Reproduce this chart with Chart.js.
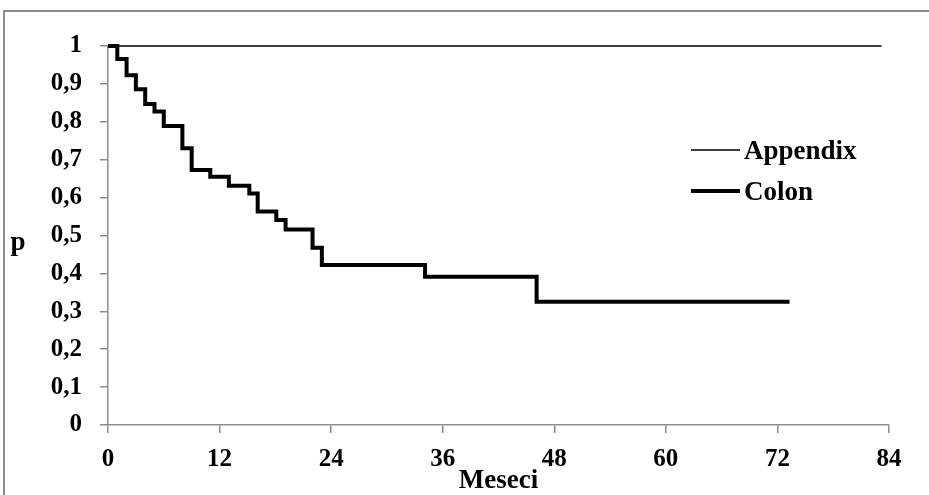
<!DOCTYPE html>
<html>
<head>
<meta charset="utf-8">
<script src="https://cdn.jsdelivr.net/npm/chart.js@4"></script>
<style>
  body { margin: 0; background: #fff; overflow: hidden; }
  #frame { position: absolute; left: 3px; top: 10px; width: 1000px; height: 600px; border: 2px solid #8c8c8c; }
  #km { position: absolute; left: 0; top: 0; }
</style>
</head>
<body>
<div id="frame"></div>
<canvas id="km" width="929" height="495"></canvas>
<script>
// Kaplan-Meier krive (mesece / p)
const appendixMonths = [0, 83.2];
const appendixP = [1, 1];
const colonMonths = [0, 1, 2, 3, 4, 5, 6, 8, 9, 11, 13, 15.2, 16.1, 18.1, 19.1, 22, 23, 34.1, 46.1, 73.3];
const colonP = [1, 0.966, 0.923, 0.886, 0.847, 0.827, 0.789, 0.730, 0.673, 0.655, 0.631, 0.611, 0.563, 0.541, 0.516, 0.468, 0.422, 0.391, 0.325, 0.325];
const xTickLabels = ['0', '12', '24', '36', '48', '60', '72', '84'];
const yTickLabels = ['0', '0,1', '0,2', '0,3', '0,4', '0,5', '0,6', '0,7', '0,8', '0,9', '1'];

const FONT = '"Liberation Serif", "Times New Roman", serif';

function toPoints(xs, ys) {
    return xs.map((x, i) => ({ x: x, y: ys[i] }));
}

// legenda unutar grafika + oznaka "p"
const extraText = {
    id: 'extraText',
    afterDraw(chart) {
        const ctx = chart.ctx;
        ctx.save();
        ctx.font = 'bold 27px ' + FONT;
        ctx.textBaseline = 'middle';
        chart.data.datasets.forEach((ds, i) => {
            const y = 150 + i * 41;
            ctx.strokeStyle = ds.borderColor;
            ctx.lineWidth = ds.borderWidth;
            ctx.beginPath();
            ctx.moveTo(691, y);
            ctx.lineTo(740, y);
            ctx.stroke();
            ctx.fillStyle = '#000';
            ctx.textAlign = 'left';
            ctx.fillText(ds.label, 744, y + 2);
        });
        ctx.textAlign = 'center';
        ctx.fillText('p', 18, 243);
        ctx.restore();
    }
};

const ctx = document.getElementById('km').getContext('2d');
new Chart(ctx, {
    type: 'line',
    data: {
        datasets: [{
            label: 'Appendix',
            data: toPoints(appendixMonths, appendixP),
            borderColor: '#000',
            borderWidth: 1.5,
            pointRadius: 0,
            clip: false
        }, {
            label: 'Colon',
            data: toPoints(colonMonths, colonP),
            borderColor: '#000',
            borderWidth: 4,
            stepped: 'before',
            borderJoinStyle: 'miter',
            pointRadius: 0,
            clip: false
        }]
    },
    options: {
        responsive: false,
        animation: false,
        layout: { padding: { left: 0, top: 46, right: 40, bottom: 0 } },
        plugins: {
            legend: { display: false },
            tooltip: { enabled: false }
        },
        scales: {
            x: {
                type: 'linear',
                min: 0,
                max: 84,
                afterFit: s => { s.height = 70; },
                grid: { drawOnChartArea: false, tickLength: 8, color: '#8c8c8c', lineWidth: 1.5 },
                border: { color: '#8c8c8c', width: 1.5 },
                ticks: {
                    stepSize: 12,
                    padding: 12,
                    color: '#000',
                    font: { family: FONT, size: 25, weight: 'bold' },
                    callback: (v, i) => xTickLabels[i]
                },
                title: {
                    display: true,
                    text: 'Meseci',
                    color: '#000',
                    padding: 0,
                    font: { family: FONT, size: 27, weight: 'bold', lineHeight: 1 }
                }
            },
            y: {
                min: 0,
                max: 1,
                afterFit: s => { s.width = 108; },
                grid: { drawOnChartArea: false, tickLength: 8, color: '#8c8c8c', lineWidth: 1.5 },
                border: { color: '#8c8c8c', width: 1.5 },
                ticks: {
                    stepSize: 0.1,
                    padding: 18,
                    color: '#000',
                    font: { family: FONT, size: 25, weight: 'bold' },
                    callback: (v, i) => yTickLabels[i]
                }
            }
        }
    },
    plugins: [extraText]
});
</script>
</body>
</html>
